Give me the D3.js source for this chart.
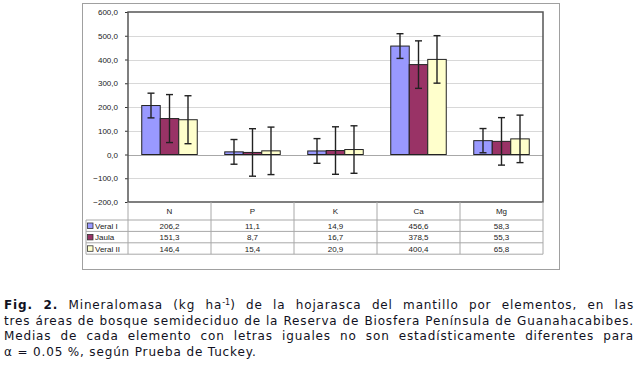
<!DOCTYPE html>
<html>
<head>
<meta charset="utf-8">
<script src="https://cdn.jsdelivr.net/npm/d3@7"></script>
<style>
body { margin: 0; background: #fff; }
#app { position: relative; width: 640px; height: 365px; }
.cap { position: absolute; left: 4px; width: 630px; font-family: "DejaVu Sans", Verdana, sans-serif; font-size: 12px; letter-spacing: 0.85px; color: #111122; white-space: nowrap; text-align: justify; text-align-last: justify; line-height: 15.6px; }
.cap.last { text-align-last: left; }
sup { font-size: 8px; line-height: 0; vertical-align: 4px; letter-spacing: 0; }
</style>
</head>
<body>
<div id="app"></div>
<script>
// data
var categories = ["N", "P", "K", "Ca", "Mg"]
var seriesNames = ["Veral I", "Jaula", "Veral II"]
var veralI = [206.2, 11.1, 14.9, 456.6, 58.3]
var jaula = [151.3, 8.7, 16.7, 378.5, 55.3]
var veralII = [146.4, 15.4, 20.9, 400.4, 65.8]
var veralIErr = [52, 52, 52, 52, 51]
var jaulaErr = [101, 100, 100, 100, 100]
var veralIIErr = [101, 100, 100, 100, 100]
var yTicks = [-200, -100, 0, 100, 200, 300, 400, 500, 600]
var colors = ["#9999ff", "#993366", "#ffffcc"]

var values = [veralI, jaula, veralII]
var errs = [veralIErr, jaulaErr, veralIIErr]

var app = d3.select("#app")
var svg = app.append("svg").attr("width", 640).attr("height", 280)
  .style("position", "absolute").style("left", 0).style("top", 0)

const pLeft = 128, pRight = 543, pTop = 12, pBottom = 202
const fmt = v => d3.format(".1f")(v).replace(".", ",")

var x = d3.scaleBand().domain(categories).range([pLeft, pRight])
var xs = d3.scaleBand().domain(seriesNames).range([0, x.bandwidth()]).paddingOuter(0.743)
var y = d3.scaleLinear().domain([-200, 600]).range([pBottom, pTop])

// outer frame
svg.append("rect").attr("x", 82.5).attr("y", 3.5).attr("width", 477).attr("height", 266)
  .attr("fill", "none").attr("stroke", "#a0a0a0")

// gridlines
svg.append("g").selectAll("line").data(yTicks.filter(d => d > -200 && d < 600)).join("line")
  .attr("x1", pLeft).attr("x2", pRight)
  .attr("y1", d => Math.round(y(d)) + 0.5).attr("y2", d => Math.round(y(d)) + 0.5)
  .attr("stroke", d => d === 0 ? "#a8a8a8" : "#d8d8d8")

// y axis
var yAxis = d3.axisLeft(y).tickValues(yTicks).tickFormat(fmt).tickSize(3)
var ya = svg.append("g").attr("transform", `translate(${pLeft},0)`).call(yAxis)
ya.select(".domain").remove()
ya.selectAll("line").attr("stroke", "#333")
ya.selectAll("text").attr("font-family", "Liberation Sans, Arial").attr("font-size", 8).attr("fill", "#222").attr("x", -10)

// bars
values.forEach((vals, si) => {
  var g = svg.append("g")
  g.selectAll("rect").data(vals).join("rect")
    .attr("x", (d, i) => x(categories[i]) + xs(seriesNames[si]))
    .attr("y", d => y(Math.max(0, d)))
    .attr("width", xs.bandwidth())
    .attr("height", d => Math.abs(y(d) - y(0)))
    .attr("fill", colors[si]).attr("stroke", "#222").attr("stroke-width", 1)
})

// error bars
values.forEach((vals, si) => {
  var g = svg.append("g").attr("stroke", "#222").attr("stroke-width", 1.4)
  vals.forEach((v, i) => {
    var cx = x(categories[i]) + xs(seriesNames[si]) + xs.bandwidth() / 2
    var e = errs[si][i]
    g.append("line").attr("x1", cx).attr("x2", cx).attr("y1", y(v + e)).attr("y2", y(v - e))
    g.append("line").attr("x1", cx - 3.5).attr("x2", cx + 3.5).attr("y1", y(v + e)).attr("y2", y(v + e))
    g.append("line").attr("x1", cx - 3.5).attr("x2", cx + 3.5).attr("y1", y(v - e)).attr("y2", y(v - e))
  })
})

// plot border
svg.append("rect").attr("x", pLeft).attr("y", pTop).attr("width", pRight - pLeft).attr("height", pBottom - pTop)
  .attr("fill", "none").attr("stroke", "#555").attr("stroke-width", 1.5)

// data table
const tLeft = 86, hdrBottom = 220, rowH = 11.4
var tg = svg.append("g").attr("stroke", "#a8a8a8").attr("stroke-width", 1)
categories.concat([null]).forEach((c, i) => {
  var xx = i < categories.length ? x(c) : pRight
  tg.append("line").attr("x1", xx).attr("x2", xx).attr("y1", pBottom).attr("y2", hdrBottom + rowH * 3)
})
tg.append("line").attr("x1", tLeft).attr("x2", tLeft).attr("y1", hdrBottom).attr("y2", hdrBottom + rowH * 3)
d3.range(4).forEach(r => {
  var yy = hdrBottom + r * rowH
  tg.append("line").attr("x1", tLeft).attr("x2", pRight).attr("y1", yy).attr("y2", yy)
})

var tt = svg.append("g").attr("font-family", "Liberation Sans, Arial").attr("font-size", 8).attr("fill", "#222")
tt.selectAll("text.hdr").data(categories).join("text").attr("class", "hdr")
  .attr("x", d => x(d) + x.bandwidth() / 2).attr("y", 214).attr("text-anchor", "middle").text(d => d)

values.forEach((vals, si) => {
  var ry = hdrBottom + si * rowH
  tt.append("rect").attr("x", 87.5).attr("y", ry + 3).attr("width", 5.5).attr("height", 5.5)
    .attr("fill", colors[si]).attr("stroke", "#333").attr("stroke-width", 0.8)
  tt.append("text").attr("x", 95).attr("y", ry + 8.8).text(seriesNames[si])
  tt.selectAll(null).data(vals).join("text")
    .attr("x", (d, i) => x(categories[i]) + x.bandwidth() / 2).attr("y", ry + 8.8)
    .attr("text-anchor", "middle").text(d => fmt(d))
})

// caption
var lines = [
  '<b>Fig. 2.</b> Mineralomasa (kg ha<sup>-1</sup>) de la hojarasca del mantillo por elementos, en las',
  'tres áreas de bosque semideciduo de la Reserva de Biosfera Península de Guanahacabibes.',
  'Medias de cada elemento con letras iguales no son estadísticamente diferentes para',
  'α = 0.05 %, según Prueba de Tuckey.'
]
lines.forEach((l, i) => {
  app.append("div").attr("class", "cap" + (i === lines.length - 1 ? " last" : ""))
    .style("top", (298 + i * 15.6) + "px").html(l)
})
</script>
</body>
</html>
